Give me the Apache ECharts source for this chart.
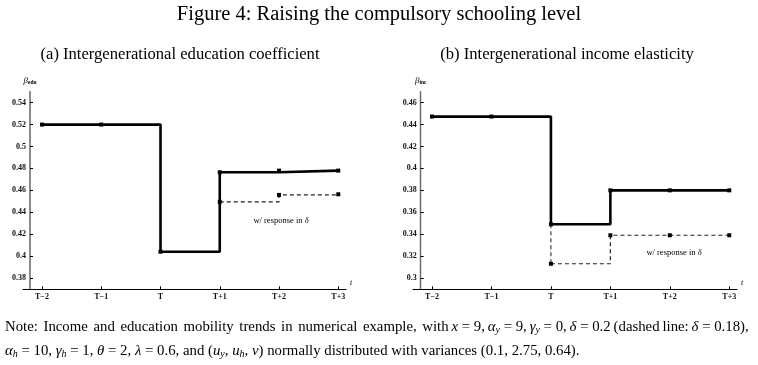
<!DOCTYPE html>
<html>
<head>
<meta charset="utf-8">
<script src="https://cdn.jsdelivr.net/npm/echarts@6/dist/echarts.min.js"></script>
<style>html,body{margin:0;padding:0;background:#fff}#c{width:758px;height:365px}</style>
</head>
<body>
<div id="c"></div>
<script>
// ---- data ----
const categories = ['T\u22122', 'T\u22121', 'T', 'T+1', 'T+2', 'T+3'];
const eduBase = [0.52, 0.52, 0.404, 0.4765, 0.478, 0.478];
const eduResponse = [null, null, null, 0.4495, 0.4558, 0.4564];
const incBase = [0.4473, 0.4473, 0.349, 0.380, 0.380, 0.380];
const incResponse = [null, null, 0.313, 0.339, 0.339, 0.339];
const eduTicks = [0.38, 0.40, 0.42, 0.44, 0.46, 0.48, 0.50, 0.52, 0.54];
const incTicks = [0.30, 0.32, 0.34, 0.36, 0.38, 0.40, 0.42, 0.44, 0.46];
const eduRange = [0.3697, 0.55];
const incRange = [0.2897, 0.47];

const SERIF = '"Liberation Serif", "DejaVu Serif", serif';
const xIdx = categories.map((c, i) => i);

function pts(vals) {
  return vals.map((v, i) => v == null ? null : [i, v]).filter(p => p);
}
function connector(base, resp) {
  const i0 = resp.findIndex(v => v != null);
  return [[i0, base[i0]], [i0, resp[i0]]];
}

function makeX(gi) {
  return {
    type: 'value', gridIndex: gi, min: -0.32, max: 5.13,
    axisLine: { show: true, onZero: false, lineStyle: { color: '#000', width: 1.2 } },
    axisTick: { show: true, inside: true, length: 3, customValues: xIdx, lineStyle: { color: '#000', width: 1 } },
    axisLabel: { customValues: xIdx, formatter: v => categories[Math.round(v)], margin: 4,
      fontFamily: SERIF, fontSize: 8, fontWeight: 'bold', color: '#111' },
    splitLine: { show: false },
    name: 't', nameLocation: 'end', nameGap: 4,
    nameTextStyle: { fontFamily: SERIF, fontStyle: 'italic', fontSize: 8, color: '#000', verticalAlign: 'bottom', padding: [0, 0, 2, 0] }
  };
}
function makeY(gi, range, ticks, sub, lineColor, lineWidth, offset) {
  return {
    type: 'value', gridIndex: gi, min: range[0], max: range[1], offset: offset,
    axisLine: { show: true, onZero: false, lineStyle: { color: lineColor, width: lineWidth } },
    axisTick: { show: true, inside: true, length: 3, customValues: ticks, lineStyle: { color: '#000', width: 1 } },
    axisLabel: { customValues: ticks, formatter: v => String(+v.toFixed(2)), margin: 4,
      fontFamily: SERIF, fontSize: 8, fontWeight: 'bold', color: '#111' },
    splitLine: { show: false },
    name: '{b|\u03b2}{s|' + sub + '}', nameLocation: 'end', nameGap: 6,
    nameTextStyle: {
      rich: {
        b: { fontFamily: SERIF, fontStyle: 'italic', fontSize: 9, color: '#000', lineHeight: 10, verticalAlign: 'middle' },
        s: { fontFamily: SERIF, fontSize: 5.5, fontWeight: 'bold', color: '#000', lineHeight: 5, verticalAlign: 'bottom' }
      }
    }
  };
}
function seriesFor(gi, base, resp) {
  return [
    { type: 'line', xAxisIndex: gi, yAxisIndex: gi, data: connector(base, resp), symbol: 'none',
      lineStyle: { color: '#444', width: 1.2, type: [4, 3] }, silent: true, animation: false },
    { type: 'line', xAxisIndex: gi, yAxisIndex: gi, data: pts(resp), step: 'end',
      symbol: 'rect', symbolSize: 4, showAllSymbol: true,
      itemStyle: { color: '#000' }, lineStyle: { color: '#222', width: 1.2, type: [4, 3] }, animation: false },
    { type: 'line', xAxisIndex: gi, yAxisIndex: gi, data: pts(base), step: 'end',
      symbol: 'rect', symbolSize: 4, showAllSymbol: true,
      itemStyle: { color: '#000' }, lineStyle: { color: '#000', width: 2.6 }, animation: false }
  ];
}

function txt(x, y, text, rich, align) {
  return { type: 'text', style: { x: x, y: y, text: text, rich: rich, align: align || 'center', verticalAlign: 'middle' } };
}
const NF = 14.8;
const noteRich = {
  n: { fontFamily: SERIF, fontSize: NF, color: '#000', lineHeight: 17, verticalAlign: 'middle' },
  w: { fontFamily: SERIF, fontSize: NF, color: '#000', lineHeight: 17, verticalAlign: 'middle', width: 5.6 },
  m: { fontFamily: SERIF, fontSize: NF, color: '#000', lineHeight: 17, verticalAlign: 'middle', width: 2.85 },
  i: { fontFamily: SERIF, fontSize: NF, fontStyle: 'italic', color: '#000', lineHeight: 17, verticalAlign: 'middle' },
  s: { fontFamily: SERIF, fontSize: 10, fontStyle: 'italic', color: '#000', lineHeight: 9, verticalAlign: 'bottom' }
};
const annRich = {
  n: { fontFamily: SERIF, fontSize: 8.5, color: '#000' },
  d: { fontFamily: SERIF, fontSize: 8.5, fontStyle: 'italic', color: '#000' }
};
const W = '{w| }';
const M = '{m| }';
const line1 = ['{n|Note:}', '{n|Income}', '{n|and}', '{n|education}', '{n|mobility}', '{n|trends}', '{n|in}',
  '{n|numerical}', '{n|example,}', '{n|with}'].join(W) + M +
  ['{i|x}{n| = 9,}', '{i|\u03b1}{s|y}{n| = 9,}', '{i|\u03b3}{s|y}{n| = 0,}',
  '{i|\u03b4}{n| = 0.2}', '{n|(dashed}', '{n|line:}', '{i|\u03b4}{n| = 0.18),}'].join(M);

const chart = echarts.init(document.getElementById('c'), null, { renderer: 'canvas' });
chart.setOption({
  backgroundColor: '#fff',
  animation: false,
  grid: [
    { left: 23, top: 91.7, width: 323, height: 197.6 },
    { left: 413, top: 91.7, width: 324, height: 197.6 }
  ],
  xAxis: [makeX(0), makeX(1)],
  yAxis: [
    makeY(0, eduRange, eduTicks, 'edu', '#8c8c8c', 2, -7),
    makeY(1, incRange, incTicks, 'inc', '#666', 1.4, -7.7)
  ],
  series: seriesFor(0, eduBase, eduResponse).concat(seriesFor(1, incBase, incResponse)),
  graphic: [
    txt(379, 15, '{t|Figure 4: Raising the compulsory schooling level}',
      { t: { fontFamily: SERIF, fontSize: 20.5, color: '#000' } }),
    txt(180, 55, '{t|(a) Intergenerational education coefficient}',
      { t: { fontFamily: SERIF, fontSize: 16.6, color: '#000' } }),
    txt(567, 55, '{t|(b) Intergenerational income elasticity}',
      { t: { fontFamily: SERIF, fontSize: 16.6, color: '#000' } }),
    txt(281, 221, '{n|w/ response in }{d|\u03b4}', annRich),
    txt(674, 253, '{n|w/ response in }{d|\u03b4}', annRich),
    txt(5, 327, line1, noteRich, 'left'),
    txt(5, 351, '{i|\u03b1}{s|h}{n| = 10, }{i|\u03b3}{s|h}{n| = 1, }{i|\u03b8}{n| = 2, }{i|\u03bb}{n| = 0.6, and (}{i|u}{s|y}{n|, }{i|u}{s|h}{n|, }{i|v}{n|) normally distributed with variances (0.1, 2.75, 0.64).}', noteRich, 'left')
  ]
});
</script>
</body>
</html>
